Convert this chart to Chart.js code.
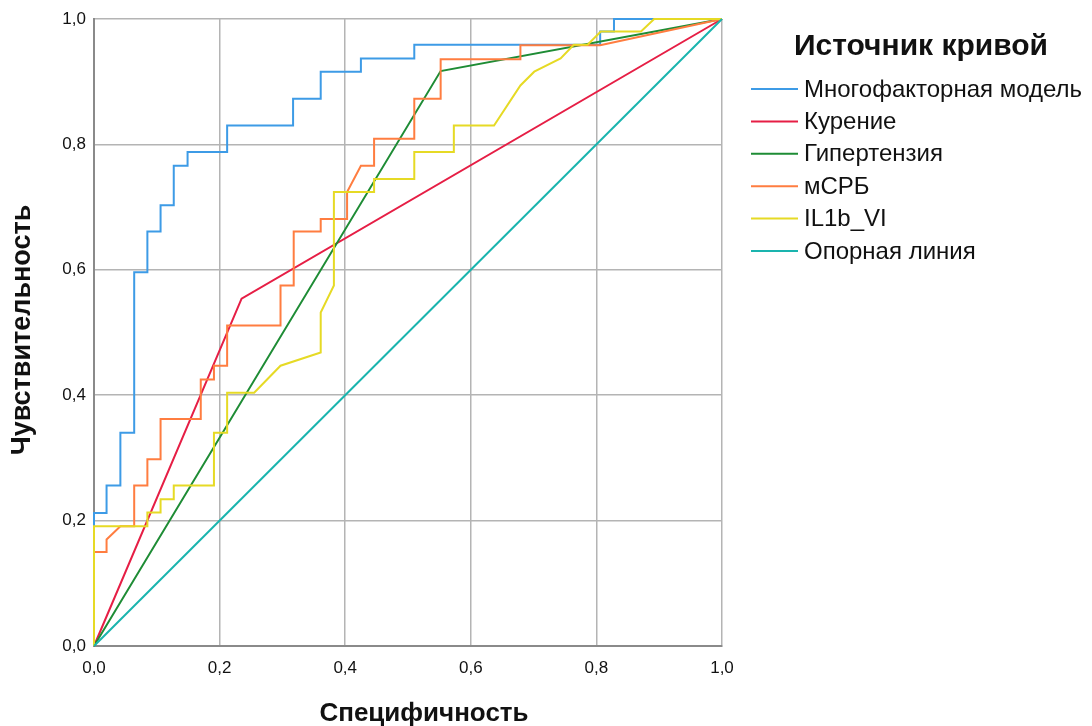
<!DOCTYPE html>
<html>
<head>
<meta charset="utf-8">
<script src="https://cdn.jsdelivr.net/npm/chart.js@4"></script>
<style>
  html, body { margin: 0; padding: 0; background: #fff; }
  #wrap { width: 1092px; height: 726px; }
</style>
</head>
<body>
<div id="wrap"><canvas id="roc"></canvas></div>
<script>
// ROC curves, x = 1 - specificity, y = sensitivity
const seriesNames = ['Многофакторная модель', 'Курение', 'Гипертензия', 'мСРБ', 'IL1b_VI', 'Опорная линия'];
const seriesColors = ['#3d9be6', '#e61e45', '#1e8c35', '#ff7d40', '#e6da25', '#1ab4ae'];

const multiX = [0, 0, 0.020, 0.020, 0.042, 0.042, 0.064, 0.064, 0.085, 0.085, 0.106, 0.106, 0.127, 0.127, 0.149, 0.149, 0.212, 0.212, 0.317, 0.317, 0.361, 0.361, 0.425, 0.425, 0.510, 0.510, 0.806, 0.806, 0.828, 0.828, 1];
const multiY = [0, 0.212, 0.212, 0.256, 0.256, 0.340, 0.340, 0.596, 0.596, 0.661, 0.661, 0.703, 0.703, 0.766, 0.766, 0.788, 0.788, 0.830, 0.830, 0.873, 0.873, 0.916, 0.916, 0.937, 0.937, 0.959, 0.959, 0.980, 0.980, 1, 1];

const smokeX = [0, 0.235, 1];
const smokeY = [0, 0.554, 1];

const hyperX = [0, 0.552, 1];
const hyperY = [0, 0.917, 1];

const crpX = [0, 0, 0.020, 0.020, 0.042, 0.064, 0.064, 0.085, 0.085, 0.106, 0.106, 0.170, 0.170, 0.191, 0.191, 0.212, 0.212, 0.297, 0.297, 0.318, 0.318, 0.361, 0.361, 0.403, 0.403, 0.425, 0.446, 0.446, 0.510, 0.510, 0.552, 0.552, 0.679, 0.679, 0.806, 1];
const crpY = [0, 0.150, 0.150, 0.170, 0.191, 0.191, 0.256, 0.256, 0.298, 0.298, 0.362, 0.362, 0.425, 0.425, 0.447, 0.447, 0.511, 0.511, 0.575, 0.575, 0.661, 0.661, 0.681, 0.681, 0.724, 0.766, 0.766, 0.809, 0.809, 0.873, 0.873, 0.936, 0.936, 0.958, 0.958, 1];

const ilX = [0, 0, 0.085, 0.085, 0.106, 0.106, 0.127, 0.127, 0.191, 0.191, 0.212, 0.212, 0.255, 0.297, 0.361, 0.361, 0.382, 0.382, 0.446, 0.446, 0.510, 0.510, 0.573, 0.573, 0.637, 0.679, 0.701, 0.743, 0.764, 0.786, 0.807, 0.871, 0.892, 1];
const ilY = [0, 0.191, 0.191, 0.213, 0.213, 0.234, 0.234, 0.256, 0.256, 0.340, 0.340, 0.404, 0.404, 0.447, 0.468, 0.532, 0.575, 0.724, 0.724, 0.745, 0.745, 0.788, 0.788, 0.830, 0.830, 0.894, 0.916, 0.937, 0.959, 0.959, 0.980, 0.980, 1, 1];

const refX = [0, 1];
const refY = [0, 1];

const tickValues = [0, 0.2, 0.4, 0.6, 0.8, 1.0];

const xTitle = 'Специфичность';
const yTitle = 'Чувствительность';
const legendTitle = 'Источник кривой';

function pts(xs, ys) {
  return xs.map((x, i) => ({ x: x, y: ys[i] }));
}

const allX = [multiX, smokeX, hyperX, crpX, ilX, refX];
const allY = [multiY, smokeY, hyperY, crpY, ilY, refY];

const datasets = seriesNames.map((name, i) => ({
  label: name,
  data: pts(allX[i], allY[i]),
  borderColor: seriesColors[i],
  backgroundColor: seriesColors[i],
  borderWidth: 2,
  showLine: true,
  pointRadius: 0,
  tension: 0,
  clip: 4,
  order: 6 - i
}));

const fmt = v => Number(v).toFixed(1).replace('.', ',');
const FONT = "'Liberation Sans', Arial, sans-serif";

// axis titles sit a bit off-centre in the original, so draw them by hand
const titlesAndLegend = {
  id: 'titlesAndLegend',
  afterDraw(chart) {
    const { ctx } = chart;
    ctx.save();
    ctx.fillStyle = '#111';
    ctx.textAlign = 'center';
    ctx.textBaseline = 'middle';

    ctx.font = 'bold 26px ' + FONT;
    ctx.fillText(xTitle, 424, 714);

    ctx.save();
    ctx.translate(23, 330);
    ctx.rotate(-Math.PI / 2);
    ctx.font = 'bold 27px ' + FONT;
    ctx.fillText(yTitle, 0, 0);
    ctx.restore();

    ctx.font = 'bold 30px ' + FONT;
    ctx.fillText(legendTitle, 921, 47);
    ctx.textAlign = 'left';
    ctx.font = '24px ' + FONT;
    chart.data.datasets.forEach((ds, i) => {
      const y = 89 + i * 32.4;
      ctx.strokeStyle = ds.borderColor;
      ctx.lineWidth = 2;
      ctx.beginPath();
      ctx.moveTo(751, y);
      ctx.lineTo(798, y);
      ctx.stroke();
      ctx.fillStyle = '#111';
      ctx.fillText(ds.label, 804, y + 1);
    });
    ctx.restore();
  }
};

new Chart(document.getElementById('roc'), {
  type: 'scatter',
  data: { datasets: datasets },
  options: {
    responsive: true,
    maintainAspectRatio: false,
    animation: false,
    layout: { padding: { top: 19, right: 370, left: 0, bottom: 0 } },
    plugins: {
      legend: { display: false },
      tooltip: { enabled: false }
    },
    scales: {
      x: {
        type: 'linear',
        min: 0,
        max: 1,
        afterBuildTicks(scale) { scale.ticks = tickValues.map(v => ({ value: v })); },
        afterFit(scale) { scale.height = 80; },
        ticks: {
          callback: fmt,
          color: '#111',
          font: { family: FONT, size: 17 },
          padding: 12,
          maxRotation: 0
        },
        grid: { color: '#b4b4b4', lineWidth: 1.5, drawTicks: false },
        border: { color: '#8a8a8a', width: 2 }
      },
      y: {
        type: 'linear',
        min: 0,
        max: 1,
        afterBuildTicks(scale) { scale.ticks = tickValues.map(v => ({ value: v })); },
        afterFit(scale) { scale.width = 94; },
        ticks: {
          callback: fmt,
          color: '#111',
          font: { family: FONT, size: 17 },
          padding: 8
        },
        grid: { color: '#b4b4b4', lineWidth: 1.5, drawTicks: false },
        border: { color: '#8a8a8a', width: 2 }
      }
    }
  },
  plugins: [titlesAndLegend]
});
</script>
</body>
</html>
